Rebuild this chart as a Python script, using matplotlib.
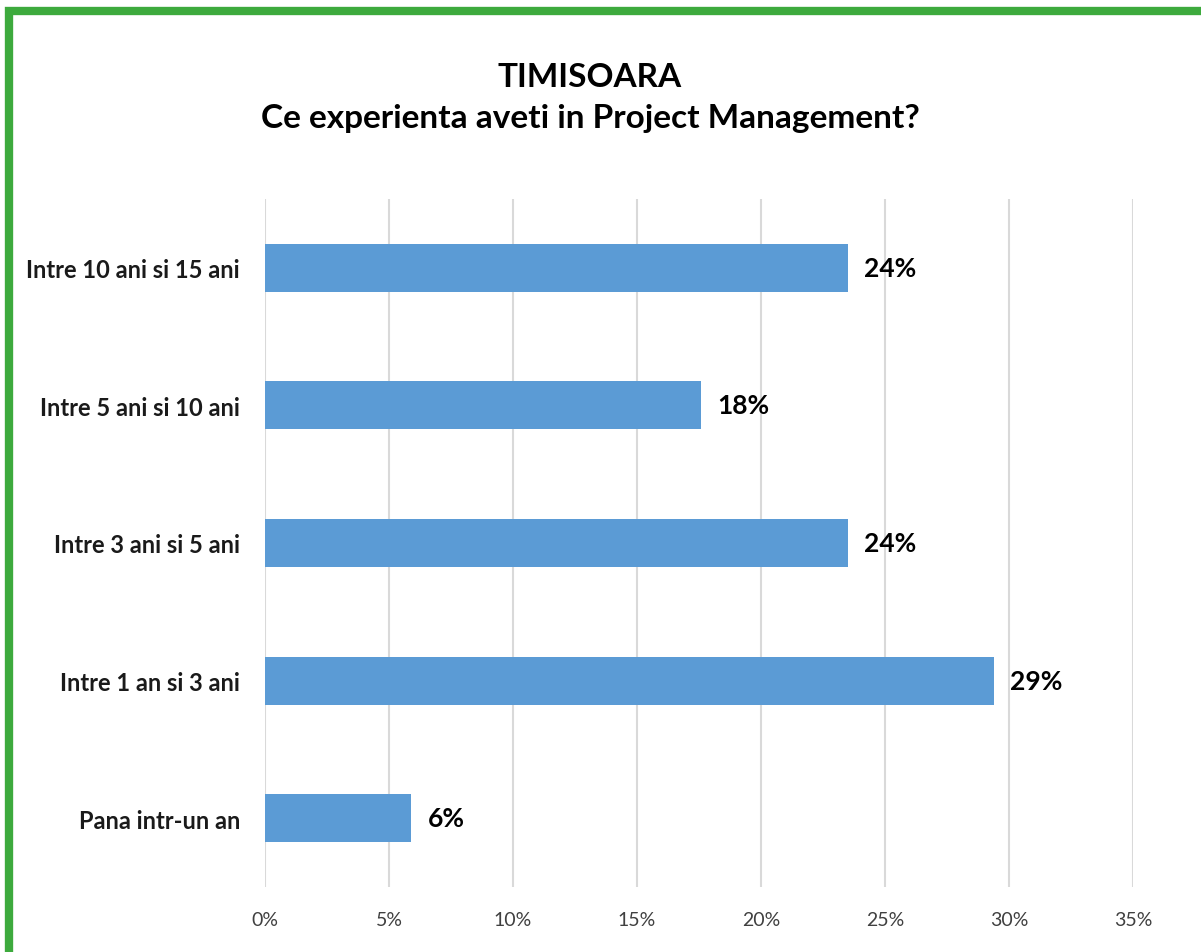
import matplotlib.pyplot as plt
import matplotlib.patches as mpatches
from matplotlib.ticker import MultipleLocator, FuncFormatter

# chart data
categories = ['Pana intr-un an', 'Intre 1 an si 3 ani', 'Intre 3 ani si 5 ani',
              'Intre 5 ani si 10 ani', 'Intre 10 ani si 15 ani']
values = [0.059, 0.294, 0.235, 0.176, 0.235]
labels = ['6%', '29%', '24%', '18%', '24%']
title = 'TIMISOARA\nCe experienta aveti in Project Management?'

plt.rcParams['font.family'] = ['Lato', 'DejaVu Sans']

fig = plt.figure(figsize=(12.01, 9.53), dpi=100)
ax = fig.add_axes([265 / 1201, 65 / 953, 868 / 1201, 688 / 953])

ax.barh(range(len(categories)), values, height=0.35, color='#5b9bd5')
for i, (v, lab) in enumerate(zip(values, labels)):
    ax.text(v + 0.0065, i, lab, va='center', ha='left',
            fontsize=19, fontweight='bold', color='black')

ax.set_xlim(0, 0.35)
ax.set_ylim(-0.5, 4.5)
ax.xaxis.set_major_locator(MultipleLocator(0.05))
ax.xaxis.set_major_formatter(FuncFormatter(lambda x, p: '%d%%' % round(x * 100)))
ax.set_yticks(range(len(categories)))
ax.set_yticklabels(categories, fontsize=17, fontweight='bold', color='#1a1a1a')
ax.tick_params(axis='x', labelsize=14, labelcolor='#404040', length=0, pad=17)
ax.tick_params(axis='y', length=0, pad=18)
ax.grid(axis='x', color='#d9d9d9', linewidth=1.5)
ax.set_axisbelow(True)
for s in ax.spines.values():
    s.set_visible(False)

fig.text(590 / 1201, 1 - 98 / 953, title, ha='center', va='center',
         fontsize=24, fontweight='bold', linespacing=1.5)

# green frame, only top and left edges visible
fig.patches.append(mpatches.Rectangle((8.5 / 1201, -0.1), 1.2, 1 - 12 / 953 + 0.1,
                                      transform=fig.transFigure, fill=False,
                                      edgecolor='#3daa3d', linewidth=6))

fig.savefig('out.png', dpi=100)
